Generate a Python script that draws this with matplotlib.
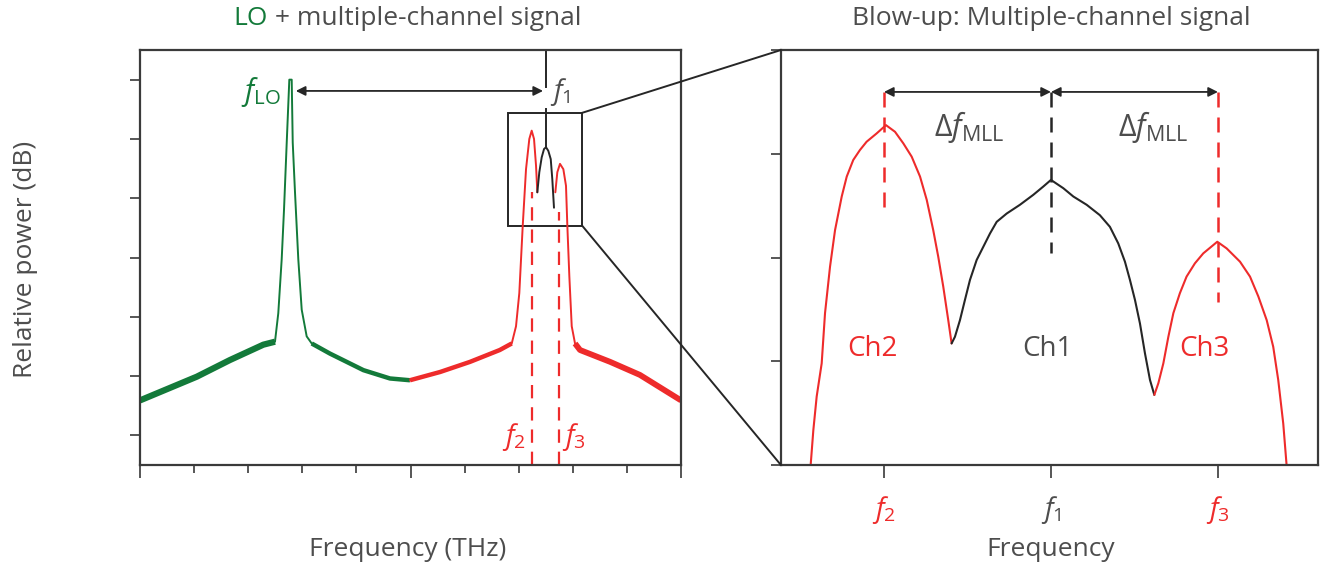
import matplotlib
matplotlib.use("Agg")
import matplotlib.pyplot as plt
from matplotlib.patches import Rectangle, ConnectionPatch

plt.rcParams['font.family'] = ['Open Sans', 'DejaVu Sans']
plt.rcParams['mathtext.fontset'] = 'custom'
plt.rcParams['mathtext.rm'] = 'Open Sans'
plt.rcParams['mathtext.it'] = 'Open Sans:italic'

GREEN = '#137a3a'
RED = '#ee2b2b'
DARK = '#262626'
TEXT = '#4d4d4d'
FRAME = '#3a3a3a'

# ---- left panel: LO + multiple-channel spectrum (x and y in tick units)
green_x = [0.00, 1.05, 1.66, 2.28, 2.495, 2.556, 2.619, 2.662, 2.712, 2.760, 2.804, 2.823, 2.865,
           2.926, 2.989, 3.081, 3.174, 3.51, 4.13, 4.62, 4.99]
green_y = [1.59, 1.99, 2.27, 2.53, 2.58, 3.06, 3.97, 4.81, 5.94, 7.00, 7.00, 5.94, 5.10,
           3.97, 3.12, 2.67, 2.55, 2.38, 2.10, 1.96, 1.93]
red1_x = [4.99, 5.55, 6.10, 6.65, 6.871, 6.950, 7.011, 7.074, 7.135, 7.196, 7.240, 7.283, 7.320, 7.344]
red1_y = [1.93, 2.07, 2.24, 2.44, 2.55, 2.84, 3.40, 4.53, 5.49, 6.00, 6.14, 6.00, 5.55, 5.10]
ch1_x = [7.344, 7.381, 7.425, 7.468, 7.505, 7.547, 7.592, 7.621, 7.652]
ch1_y = [5.10, 5.44, 5.69, 5.83, 5.86, 5.80, 5.66, 5.32, 4.84]
red2_x = [7.677, 7.714, 7.763, 7.825, 7.874, 7.899, 7.936, 7.980, 8.041, 8.133, 8.69, 9.24, 10.00]
red2_y = [5.10, 5.44, 5.58, 5.49, 5.21, 4.53, 3.68, 2.84, 2.55, 2.44, 2.24, 2.02, 1.59]

f1_left, f2_left, f3_left = 7.50, 7.25, 7.75

# ---- right panel: blow-up (x in units of channel spacing, f1 = 0; y as fraction of axis)
ch2_x = [-1.439, -1.423, -1.403, -1.373, -1.353, -1.323, -1.293, -1.253, -1.223, -1.184, -1.144, -1.104,
         -1.044, -0.988, -0.934, -0.884, -0.834, -0.784, -0.744, -0.705, -0.675, -0.645, -0.615, -0.595]
ch2_y = [0.000, 0.084, 0.165, 0.245, 0.366, 0.478, 0.566, 0.647, 0.695, 0.735, 0.759, 0.779,
         0.799, 0.819, 0.803, 0.775, 0.743, 0.695, 0.639, 0.566, 0.502, 0.430, 0.349, 0.293]
ch1b_x = [-0.595, -0.575, -0.545, -0.515, -0.485, -0.445, -0.405, -0.365, -0.325, -0.265, -0.186, -0.106,
          -0.046, 0.0, 0.074, 0.134, 0.214, 0.293, 0.353, 0.403, 0.443, 0.473, 0.503, 0.533, 0.563, 0.593, 0.619]
ch1b_y = [0.293, 0.309, 0.349, 0.398, 0.446, 0.494, 0.526, 0.558, 0.586, 0.606, 0.627, 0.651,
          0.671, 0.687, 0.667, 0.647, 0.627, 0.602, 0.574, 0.534, 0.490, 0.446, 0.398, 0.341, 0.269, 0.205, 0.169]
ch3_x = [0.619, 0.643, 0.673, 0.703, 0.733, 0.772, 0.812, 0.862, 0.912, 0.996, 1.052, 1.132, 1.192,
         1.242, 1.292, 1.331, 1.361, 1.391, 1.411]
ch3_y = [0.169, 0.197, 0.245, 0.309, 0.366, 0.414, 0.454, 0.486, 0.510, 0.538, 0.522, 0.490, 0.454,
         0.406, 0.349, 0.285, 0.205, 0.100, 0.000]
chan_pos = [-1.0, 0.0, 1.0]
chan_labels = ['$f_2$', '$f_1$', '$f_3$']
chan_names = ['Ch2', 'Ch1', 'Ch3']
dash_tops = [0.598, 0.511, 0.393]

fig = plt.figure(figsize=(13.27, 5.71), dpi=100)
ax1 = fig.add_axes([0.1055, 0.1856, 0.4077, 0.7268])
ax2 = fig.add_axes([0.5885, 0.1856, 0.4047, 0.7268])

for ax in (ax1, ax2):
    for s in ax.spines.values():
        s.set_color(FRAME)
        s.set_linewidth(1.6)
    ax.tick_params(direction='out', color=FRAME, width=1.2, length=7, labelcolor=TEXT)

# left panel curves: thick wings mimic the noise band
kw = dict(solid_joinstyle='round', solid_capstyle='round')
ax1.plot(green_x, green_y, color=GREEN, lw=1.4, **kw)
ax1.plot(green_x[:5], green_y[:5], color=GREEN, lw=4.5, solid_capstyle='butt')
ax1.plot(green_x[16:], green_y[16:], color=GREEN, lw=3.2, solid_capstyle='butt')
ax1.plot(red1_x, red1_y, color=RED, lw=1.4, **kw)
ax1.plot(red1_x[:5], red1_y[:5], color=RED, lw=3.2, solid_capstyle='butt')
ax1.plot(red2_x, red2_y, color=RED, lw=1.4, **kw)
ax1.plot(red2_x[8:], red2_y[8:], color=RED, lw=4.2, solid_capstyle='butt')
ax1.plot(ch1_x, ch1_y, color=DARK, lw=1.4, **kw)

ax1.plot([f2_left, f2_left], [0.5, 5.1], color=RED, lw=1.6, ls=(0, (6, 4)))
ax1.plot([f3_left, f3_left], [0.5, 4.76], color=RED, lw=1.6, ls=(0, (6, 4)))
ax1.plot([f1_left, f1_left], [7.5, 6.88], color=DARK, lw=1.4)
ax1.plot([f1_left, f1_left], [6.50, 5.86], color=DARK, lw=1.4)
ax1.annotate('', xy=(2.88, 6.81), xytext=(7.45, 6.81),
             arrowprops=dict(arrowstyle='<|-|>', color=DARK, lw=1.3, mutation_scale=14, shrinkA=0, shrinkB=0))
ax1.add_patch(Rectangle((6.80, 4.54), 1.37, 1.90, fill=False, ec=DARK, lw=1.4))

ax1.text(2.60, 6.80, r'$f_{\rm LO}$', color=GREEN, fontsize=21, ha='right', va='center')
ax1.text(7.58, 6.80, r'$f_1$', color=TEXT, fontsize=20, ha='left', va='center')
ax1.text(7.13, 0.98, r'$f_2$', color=RED, fontsize=20, ha='right', va='center')
ax1.text(7.80, 0.98, r'$f_3$', color=RED, fontsize=20, ha='left', va='center')

ax1.set_xlim(0, 10)
ax1.set_ylim(0.5, 7.5)
ax1.set_xticks([0, 5, 10])
ax1.set_xticks([1, 2, 3, 4, 6, 7, 8, 9], minor=True)
ax1.set_yticks([1, 2, 3, 4, 5, 6, 7])
ax1.tick_params(axis='x', which='major', length=9)
ax1.tick_params(axis='x', which='minor', direction='out', color=FRAME, width=1.2, length=6)
ax1.set_xticklabels([])
ax1.set_yticklabels([])

# right panel
ax2.plot(ch2_x, ch2_y, color=RED, lw=1.5, **kw)
ax2.plot(ch1b_x, ch1b_y, color=DARK, lw=1.5, **kw)
ax2.plot(ch3_x, ch3_y, color=RED, lw=1.5, **kw)
for xp, top, c in zip(chan_pos, dash_tops, [RED, DARK, RED]):
    ax2.plot([xp, xp], [0.899, top], color=c, lw=1.8, ls=(0, (6, 4)))
for xa, xb in [(-1.0, 0.0), (0.0, 1.0)]:
    ax2.annotate('', xy=(xa, 0.899), xytext=(xb, 0.899),
                 arrowprops=dict(arrowstyle='<|-|>', color=DARK, lw=1.3, mutation_scale=14, shrinkA=0, shrinkB=0))
ax2.text(-0.49, 0.815, r'$\Delta f_{\rm MLL}$', color=TEXT, fontsize=22, ha='center', va='center')
ax2.text(0.61, 0.815, r'$\Delta f_{\rm MLL}$', color=TEXT, fontsize=22, ha='center', va='center')
for xp, name, c in zip([-1.07, -0.02, 0.92], chan_names, [RED, TEXT, RED]):
    ax2.text(xp, 0.28, name, color=c, fontsize=20, ha='center', va='center')

ax2.set_xlim(-1.617, 1.599)
ax2.set_ylim(0, 1)
ax2.set_xticks(chan_pos)
ax2.set_xticklabels(chan_labels, fontsize=20)
for lab, c in zip(ax2.get_xticklabels(), [RED, TEXT, RED]):
    lab.set_color(c)
ax2.tick_params(axis='x', length=9, pad=12)
ax2.set_yticks([0, 0.25, 0.5, 0.75, 1.0])
ax2.set_yticklabels([])

# titles and axis labels placed in figure coordinates
fig.text(0.202, 0.967, 'LO', color=GREEN, fontsize=19, ha='right', va='center')
fig.text(0.202, 0.967, ' + multiple-channel signal', color=TEXT, fontsize=19, ha='left', va='center')
fig.text(0.792, 0.967, 'Blow-up: Multiple-channel signal', color=TEXT, fontsize=19, ha='center', va='center')
fig.text(0.3075, 0.037, 'Frequency (THz)', color=TEXT, fontsize=19, ha='center', va='center')
fig.text(0.792, 0.037, 'Frequency', color=TEXT, fontsize=19, ha='center', va='center')
fig.text(0.019, 0.546, 'Relative power (dB)', color=TEXT, fontsize=19, ha='center', va='center', rotation=90)

# zoom connectors
for ya, yb in [(6.44, 1.0), (4.54, 0.0)]:
    con = ConnectionPatch(xyA=(8.17, ya), coordsA=ax1.transData,
                          xyB=(0.0, yb), coordsB=ax2.transAxes, color=DARK, lw=1.4)
    fig.add_artist(con)

fig.savefig('out.png', dpi=100)
